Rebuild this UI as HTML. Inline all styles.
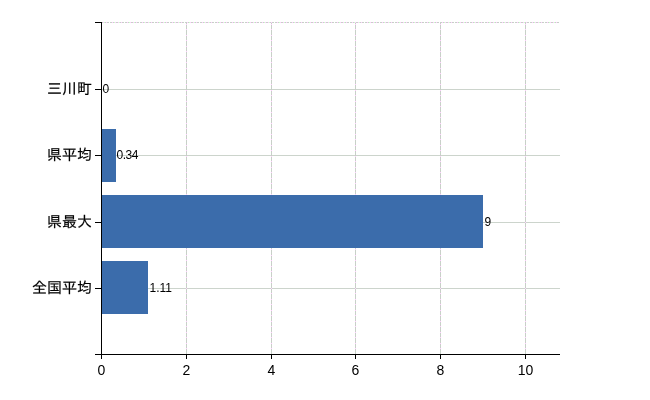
<!DOCTYPE html>
<html lang="ja">
<head>
<meta charset="utf-8">
<title>chart</title>
<style>
html,body{margin:0;padding:0;background:#fff;}
body{width:650px;height:400px;overflow:hidden;}
svg{display:block;}
.lab{font-family:"Liberation Sans","IPAGothic","Noto Sans CJK JP",sans-serif;font-size:15px;fill:#000;stroke:#000;stroke-width:0.18px;}
.num{font-family:"Liberation Sans","Noto Sans CJK JP",sans-serif;font-size:14px;fill:#000;}
.val{font-family:"Liberation Sans","Noto Sans CJK JP",sans-serif;font-size:12px;fill:#000;}
</style>
</head>
<body>
<svg width="650" height="400" viewBox="0 0 650 400">
<rect x="0" y="0" width="650" height="400" fill="#ffffff"/>
<defs>
  <pattern id="hdit" patternUnits="userSpaceOnUse" x="100" y="22" width="15" height="1"><rect x="0" y="0" width="15" height="1" fill="#c8d0c8"/><rect x="0" y="0" width="1" height="1" fill="#ffccff"/><rect x="3" y="0" width="1" height="1" fill="#ffccff"/><rect x="4" y="0" width="1" height="1" fill="#ccffcc"/><rect x="6" y="0" width="1" height="1" fill="#ffccff"/><rect x="9" y="0" width="1" height="1" fill="#ffffff"/><rect x="12" y="0" width="1" height="1" fill="#ffccff"/><rect x="14" y="0" width="1" height="1" fill="#ccffcc"/></pattern>
  <pattern id="vdit" patternUnits="userSpaceOnUse" x="0" y="24" width="1" height="11"><rect x="0" y="0" width="1" height="11" fill="#c8d0c8"/><rect x="0" y="0" width="1" height="1" fill="#ffccff"/><rect x="0" y="5" width="1" height="1" fill="#ffccff"/></pattern>
</defs>
<g shape-rendering="crispEdges">
  <!-- grid -->
  <g fill="#d6d8d6">
    <rect x="102" y="22" width="458" height="1" fill="url(#hdit)"/>
    <rect x="102" y="89" width="458" height="1" fill="#ccd4cc"/>
    <rect x="102" y="155" width="458" height="1" fill="#ccd4cc"/>
    <rect x="102" y="222" width="458" height="1" fill="#ccd4cc"/>
    <rect x="102" y="288" width="458" height="1" fill="#ccd4cc"/>
    <rect x="186" y="23" width="1" height="331" fill="url(#vdit)"/>
    <rect x="271" y="23" width="1" height="331" fill="url(#vdit)"/>
    <rect x="355" y="23" width="1" height="331" fill="url(#vdit)"/>
    <rect x="440" y="23" width="1" height="331" fill="url(#vdit)"/>
    <rect x="525" y="23" width="1" height="331" fill="url(#vdit)"/>
  </g>
  <!-- bars -->
  <g fill="#3b6cab">
    <rect x="102" y="129" width="14" height="53"/>
    <rect x="102" y="195" width="381" height="53"/>
    <rect x="102" y="261" width="46" height="53"/>
  </g>
  <!-- axes -->
  <g fill="#000">
    <rect x="101" y="22" width="1" height="333"/>
    <rect x="95" y="22" width="6" height="1"/>
    <rect x="95" y="354" width="465" height="1"/>
    <rect x="95" y="89" width="6" height="1"/>
    <rect x="95" y="155" width="6" height="1"/>
    <rect x="95" y="222" width="6" height="1"/>
    <rect x="95" y="288" width="6" height="1"/>
    <rect x="101" y="355" width="1" height="4"/>
    <rect x="186" y="355" width="1" height="4"/>
    <rect x="271" y="355" width="1" height="4"/>
    <rect x="355" y="355" width="1" height="4"/>
    <rect x="440" y="355" width="1" height="4"/>
    <rect x="525" y="355" width="1" height="4"/>
  </g>
</g>
<g class="lab" text-anchor="end">
  <text x="92" y="94">三川町</text>
  <text x="92" y="160">県平均</text>
  <text x="92" y="226.5">県最大</text>
  <text x="92" y="293">全国平均</text>
</g>
<g class="num" text-anchor="middle">
  <text x="101.5" y="375">0</text>
  <text x="186.5" y="375">2</text>
  <text x="271.5" y="375">4</text>
  <text x="355.5" y="375">6</text>
  <text x="440.5" y="375">8</text>
  <text x="525.5" y="375">10</text>
</g>
<g class="val">
  <text x="102.5" y="93">0</text>
  <text x="116.6" y="159" letter-spacing="-0.5">0.34</text>
  <text x="484.5" y="226">9</text>
  <text x="149.5" y="292">1.11</text>
</g>
</svg>
</body>
</html>
